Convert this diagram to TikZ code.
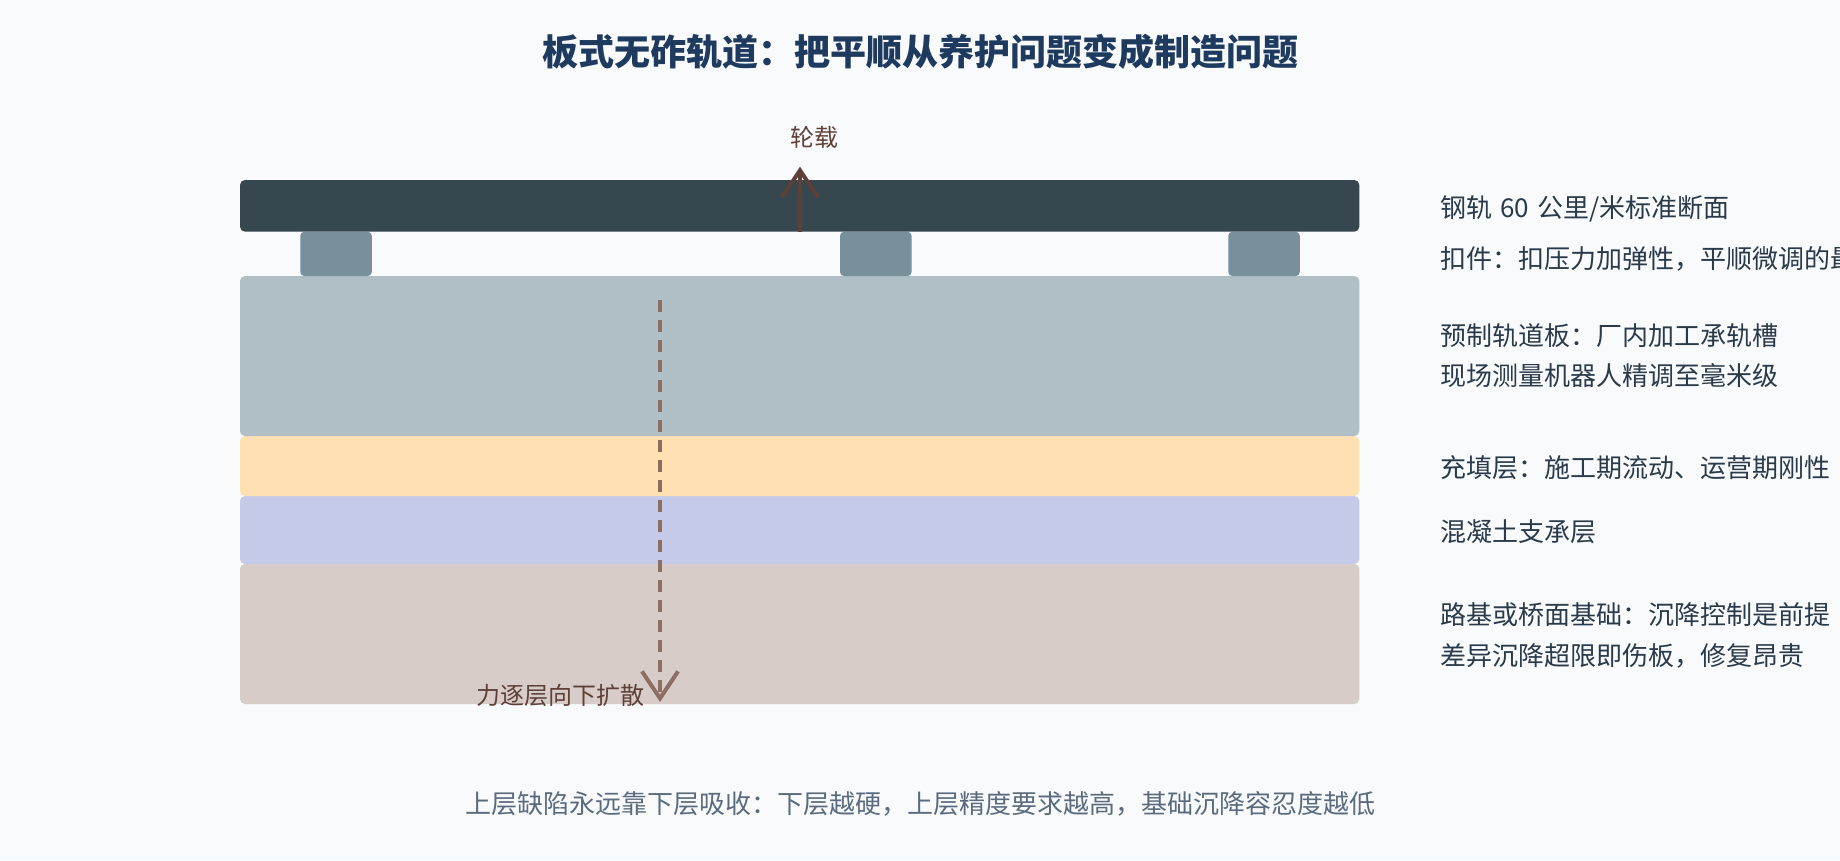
\documentclass[tikz,border=0pt]{standalone}
\usepackage{fontspec}
\setmainfont{Noto Sans CJK SC}
\usetikzlibrary{arrows.meta}
\definecolor{bgc}{HTML}{F8FAFC}
\definecolor{railc}{HTML}{37474F}
\definecolor{padc}{HTML}{78909C}
\definecolor{slabc}{HTML}{B0BEC5}
\definecolor{fillc}{HTML}{FFE0B2}
\definecolor{suppc}{HTML}{C5CAE9}
\definecolor{foundc}{HTML}{D7CCC8}
\definecolor{titlec}{HTML}{1E3A5F}
\definecolor{textc}{HTML}{2B3A4A}
\definecolor{capc}{HTML}{5B6B7D}
\definecolor{loadc}{HTML}{5D4037}
\definecolor{spreadc}{HTML}{8D6E63}
\tikzset{
  layerbox/.style={rectangle, draw=none, inner sep=0pt, outer sep=0pt, rounded corners=5pt, minimum width=1119.3pt},
  padbox/.style={rectangle, draw=none, inner sep=0pt, outer sep=0pt, rounded corners=4pt, fill=padc, minimum width=71.5pt, minimum height=44.3pt},
  rtext/.style={anchor=base west, inner sep=0pt, text=textc, font=\fontsize{26pt}{30pt}\selectfont},
  lbl/.style={inner sep=0pt, text=loadc, font=\fontsize{24pt}{28pt}\selectfont},
  loadarrow/.style={draw=loadc, line width=4pt, -{Straight Barb[length=27pt,width=36pt]}},
  spreadarrow/.style={draw=spreadc, line width=4pt, dash pattern=on 12pt off 8pt, -{Straight Barb[length=27pt,width=36pt]}}
}
\begin{document}
\begin{tikzpicture}[x=1pt,y=-1pt]
\useasboundingbox (0,0) rectangle (1840,860);
\fill[bgc] (0,0) rectangle (1840,860);

% title
\node[anchor=base, inner sep=0pt, text=titlec, font=\fontsize{36pt}{40pt}\selectfont\bfseries] (title) at (920,65.5) {板式无砟轨道：把平顺从养护问题变成制造问题};

% layers
\node[layerbox, fill=foundc, minimum height=140pt] (found) at (799.65,634) {};
\node[layerbox, fill=suppc, minimum height=68pt] (supp) at (799.65,530) {};
\node[layerbox, fill=fillc, minimum height=60pt] (filling) at (799.65,466) {};
\node[layerbox, fill=slabc, minimum height=160pt] (slab) at (799.65,356) {};
\node[padbox] (pad1) at (336,253.9) {};
\node[padbox] (pad2) at (875.8,253.9) {};
\node[padbox] (pad3) at (1264,253.9) {};
\node[layerbox, fill=railc, minimum height=51.7pt] (rail) at (799.65,205.85) {};

% wheel load arrow
\coordinate (loadbase) at (800,231.7);
\coordinate (loadtip) at (800,166.7);
\draw[loadarrow] (loadbase) -- (loadtip);
\node[lbl, anchor=base] (loadlbl) at (814,146) {轮载};

% force spreading arrow
\coordinate (spreadtop) at (660,300);
\coordinate (spreadtip) at (660,702);
\draw[spreadarrow] (spreadtop) -- (spreadtip);
\node[lbl, anchor=base east] (spreadlbl) at (645,704) {力逐层向下扩散};

% right column
\node[rtext] (t1) at (1440,217) {钢轨\hspace{8pt}60\hspace{8pt}公里/米标准断面};
\node[rtext] (t2) at (1440,268) {扣件：扣压力加弹性，平顺微调的最};
\node[rtext] (t3) at (1440,345) {预制轨道板：厂内加工承轨槽};
\node[rtext] (t4) at (1440,385.5) {现场测量机器人精调至毫米级};
\node[rtext] (t5) at (1440,477) {充填层：施工期流动、运营期刚性};
\node[rtext] (t6) at (1440,541.7) {混凝土支承层};
\node[rtext] (t7) at (1440,624.5) {路基或桥面基础：沉降控制是前提};
\node[rtext] (t8) at (1440,665) {差异沉降超限即伤板，修复昂贵};

% caption
\node[anchor=base, inner sep=0pt, text=capc, font=\fontsize{26pt}{30pt}\selectfont] (caption) at (920,813) {上层缺陷永远靠下层吸收：下层越硬，上层精度要求越高，基础沉降容忍度越低};
\end{tikzpicture}
\end{document}
